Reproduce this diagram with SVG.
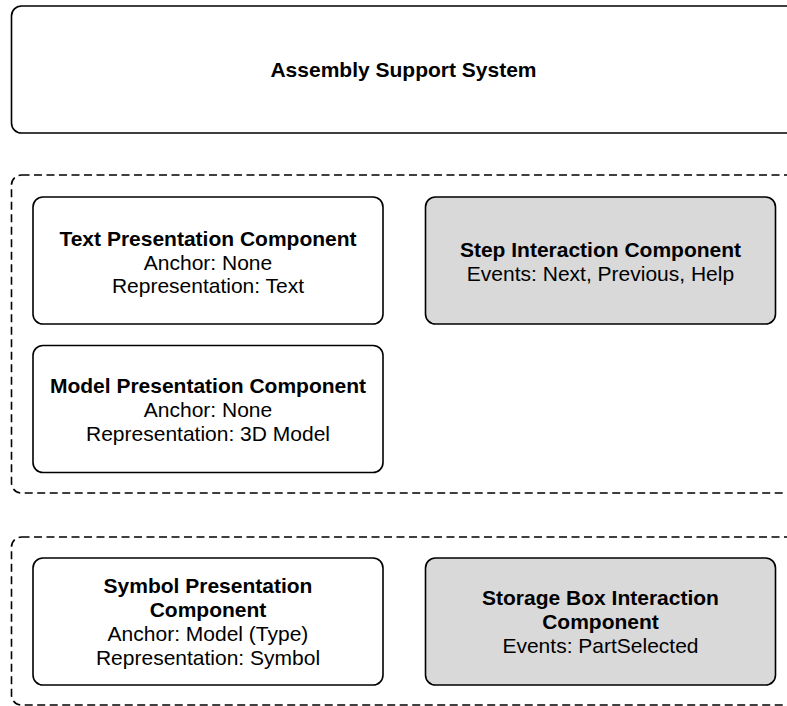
<svg xmlns="http://www.w3.org/2000/svg" width="787" height="706" viewBox="0 0 787 706">
<style>
.box{fill:#ffffff;stroke:#000000;stroke-width:1.6}
.act{fill:#d9d9d9;stroke:#000000;stroke-width:1.6}
.grp{fill:none;stroke:#000000;stroke-width:1.6;stroke-dasharray:8 4.5}
text{font-family:"Liberation Sans",Arial,Helvetica,sans-serif;font-size:21px;fill:#000000;text-anchor:middle}
.b{font-weight:bold}
</style>
<rect width="787" height="706" fill="#ffffff"/>
<g id="system">
<rect class="box" x="11.5" y="6" width="786" height="127" rx="10"/>
<text class="b" x="403.5" y="77">Assembly Support System</text>
</g>
<g id="group-upper">
<rect class="grp" x="11.5" y="175" width="786" height="318" rx="10"/>
</g>
<g id="group-lower">
<rect class="grp" x="11.5" y="537" width="786" height="168" rx="10"/>
</g>
<g id="text-presentation">
<rect class="box" x="33" y="197" width="350" height="127" rx="10"/>
<text class="b" x="208" y="245.5">Text Presentation Component</text>
<text x="208" y="269.5">Anchor: None</text>
<text x="208" y="293">Representation: Text</text>
</g>
<g id="step-interaction">
<rect class="act" x="425.5" y="197" width="350" height="127" rx="10"/>
<text class="b" x="600.5" y="256.5">Step Interaction Component</text>
<text x="600.5" y="280.5">Events: Next, Previous, Help</text>
</g>
<g id="model-presentation">
<rect class="box" x="33" y="345.5" width="350" height="127" rx="10"/>
<text class="b" x="208" y="392.5">Model Presentation Component</text>
<text x="208" y="416.5">Anchor: None</text>
<text x="208" y="440.5">Representation: 3D Model</text>
</g>
<g id="symbol-presentation">
<rect class="box" x="33" y="558" width="350" height="127" rx="10"/>
<text class="b" x="208" y="593">Symbol Presentation</text>
<text class="b" x="208" y="617">Component</text>
<text x="208" y="641">Anchor: Model (Type)</text>
<text x="208" y="665">Representation: Symbol</text>
</g>
<g id="storage-box-interaction">
<rect class="act" x="425.5" y="558" width="350" height="127" rx="10"/>
<text class="b" x="600.5" y="605">Storage Box Interaction</text>
<text class="b" x="600.5" y="629">Component</text>
<text x="600.5" y="653">Events: PartSelected</text>
</g>
<g id="connectors"/>
</svg>
